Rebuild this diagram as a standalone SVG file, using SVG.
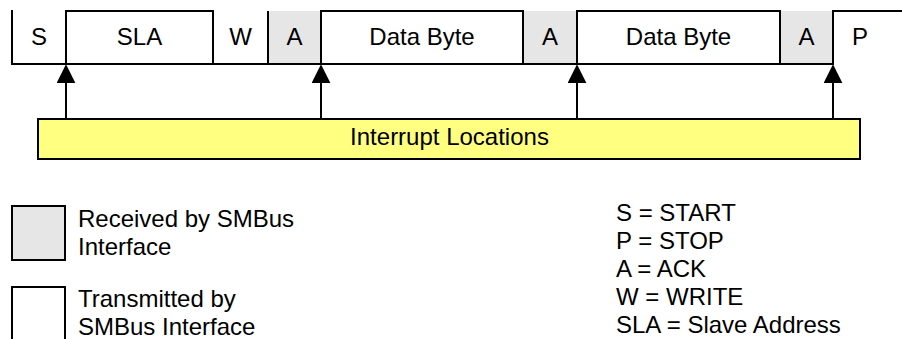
<svg xmlns="http://www.w3.org/2000/svg" width="902" height="339" viewBox="0 0 902 339">
<style>
.ln{stroke:#000;stroke-width:2;fill:none}
.bx{stroke:#000;stroke-width:2;fill:#fff}
.rx{fill:#e6e6e6}
.t{font-family:"Liberation Sans",Arial,sans-serif;font-size:24px;fill:#000}
.c{text-anchor:middle}
</style>
<defs>
<marker id="ah" markerWidth="19" markerHeight="19" viewBox="0 0 20 20" refX="14" refY="10" orient="auto" markerUnits="userSpaceOnUse">
<path d="M0,0 L20,10 L0,20 Z" fill="#000"/>
</marker>
</defs>
<rect width="902" height="339" fill="#fff"/>
<g id="frame">
<g id="cell-S"><line class="ln" x1="12" y1="10" x2="12" y2="64"/><text class="t c" x="39" y="45">S</text></g>
<g id="cell-SLA"><rect class="bx" x="66" y="11" width="147" height="53"/><text class="t c" x="139.5" y="45">SLA</text></g>
<g id="cell-W"><text class="t c" x="240.5" y="45">W</text></g>
<g id="cell-A1"><rect class="rx" x="268" y="11" width="53" height="53"/><line class="ln" x1="268" y1="11" x2="268" y2="64"/><text class="t c" x="294.5" y="45">A</text></g>
<g id="cell-Data1"><rect class="bx" x="321" y="11" width="202" height="53"/><text class="t c" x="422" y="45">Data Byte</text></g>
<g id="cell-A2"><rect class="rx" x="524" y="11" width="53" height="53"/><text class="t c" x="550" y="45">A</text></g>
<g id="cell-Data2"><rect class="bx" x="577" y="11" width="203" height="53"/><text class="t c" x="678.5" y="45">Data Byte</text></g>
<g id="cell-A3"><rect class="rx" x="781" y="11" width="52" height="53"/><text class="t c" x="806.5" y="45">A</text></g>
<g id="cell-P"><path class="ln" d="M833,64 L833,11 L903,11"/><text class="t" x="852" y="45">P</text></g>
<line class="ln" x1="11" y1="64" x2="834" y2="64"/>
</g>
<g id="connectors">
<line class="ln" x1="66" y1="119" x2="66" y2="70" marker-end="url(#ah)"/>
<line class="ln" x1="321" y1="119" x2="321" y2="70" marker-end="url(#ah)"/>
<line class="ln" x1="577" y1="119" x2="577" y2="70" marker-end="url(#ah)"/>
<line class="ln" x1="833" y1="119" x2="833" y2="70" marker-end="url(#ah)"/>
</g>
<g id="interrupt">
<rect x="38" y="119" width="822" height="40" fill="#ffff80" stroke="#000" stroke-width="2"/>
<text class="t c" x="449.5" y="145">Interrupt Locations</text>
</g>
<g id="legend-received">
<rect x="12" y="206" width="53" height="54" fill="#e6e6e6" stroke="#000" stroke-width="2"/>
<text class="t" x="78" y="226.5">Received by SMBus</text>
<text class="t" x="78" y="254.5">Interface</text>
</g>
<g id="legend-transmitted">
<rect x="12" y="287" width="53" height="70" fill="#fff" stroke="#000" stroke-width="2"/>
<text class="t" x="78" y="306.5">Transmitted by</text>
<text class="t" x="78" y="334.5">SMBus Interface</text>
</g>
<g id="abbrev">
<text class="t" x="616" y="221">S = START</text>
<text class="t" x="616" y="249">P = STOP</text>
<text class="t" x="616" y="277">A = ACK</text>
<text class="t" x="616" y="305">W = WRITE</text>
<text class="t" x="616" y="333">SLA = Slave Address</text>
</g>
</svg>
